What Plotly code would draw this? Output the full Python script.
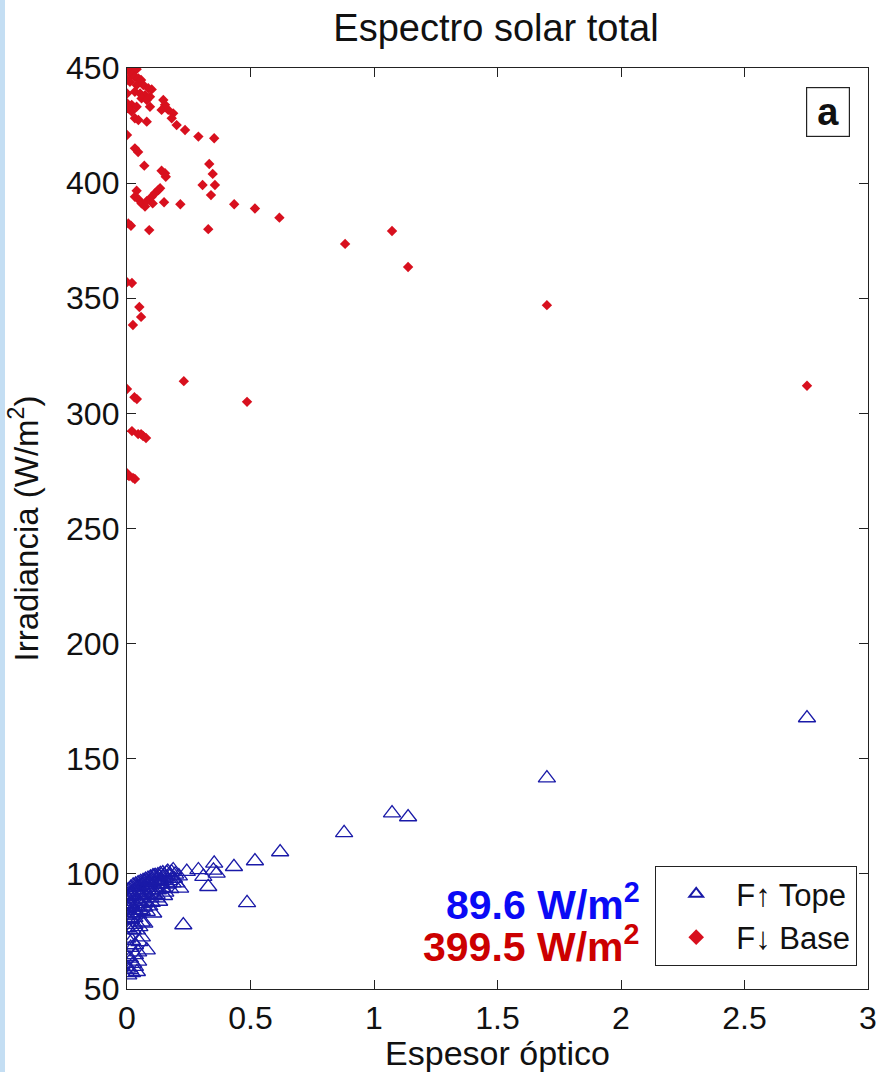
import plotly.graph_objects as go

# Optical thickness and upward flux at top of atmosphere (W/m2)
tau_up = [2.753, 1.70, 1.138, 1.073, 0.879, 0.62, 0.518, 0.486, 0.433, 0.353,
          0.35, 0.363, 0.329, 0.289, 0.309, 0.242, 0.187, 0.215, 0.228,
          0.16, 0.15, 0.13, 0.12, 0.10, 0.09, 0.08, 0.07, 0.06, 0.05,
          0.04, 0.03, 0.02, 0.01, 0.0, 0.0, 0.01, 0.02, 0.035, 0.05,
          0.065, 0.085, 0.11, 0.14, 0.17, 0.19, 0.2, 0.175, 0.155, 0.12,
          0.095, 0.075, 0.055, 0.04, 0.025, 0.01, 0.0, 0.0, 0.015, 0.03,
          0.045, 0.06, 0.08, 0.106, 0.09, 0.13, 0.0, 0.008, 0.024, 0.04,
          0.032, 0.08, 0.05, 0.02, 0.0, 0.012, 0.032, 0.045, 0.0, 0.012,
          0.032, 0.005, 0.02, 0.06, 0.11, 0.1,
          0.005, 0.015, 0.025, 0.035, 0.045, 0.055, 0.065, 0.075, 0.085, 0.095,
          0.105, 0.115, 0.125, 0.135, 0.145, 0.165, 0.18, 0.195, 0.21,
          0.005, 0.015, 0.025, 0.045, 0.055, 0.075, 0.095, 0.115, 0.135, 0.155,
          0.175, 0.005, 0.015, 0.045, 0.065, 0.085, 0.105, 0.125, 0.145, 0.165,
          0.185, 0.005, 0.02, 0.035, 0.05, 0.07, 0.1, 0.12, 0.15, 0.06,
          0.03, 0.05, 0.07, 0.0, 0.015, 0.06, 0.045, 0.025, 0.04]
f_up = [167.7, 141.6, 124.7, 126.4, 117.8, 109.5, 105.6, 87.4, 103.1, 104.6,
        101.5, 100.2, 94.4, 101.7, 98.8, 101.0, 101.7, 93.7, 77.8,
        100.5, 99.5, 98.8, 97.5, 97.0, 96.2, 95.5, 96.5, 95.0, 94.5,
        94.0, 93.0, 92.0, 91.0, 90.0, 88.0, 87.0, 86.0, 89.0, 90.5,
        92.0, 93.0, 94.0, 95.5, 97.0, 98.0, 96.0, 93.5, 92.0, 91.0,
        89.5, 88.0, 87.0, 85.5, 84.0, 83.0, 82.0, 85.0, 80.5, 81.0,
        82.5, 84.0, 83.6, 82.9, 86.0, 88.0, 76.5, 75.8, 75.6, 75.6,
        69.1, 66.9, 70.5, 71.0, 64.0, 63.3, 64.8, 66.0, 59.0, 58.3,
        59.7, 56.0, 57.0, 91.0, 99.0, 92.5,
        93.0, 94.0, 95.0, 95.5, 96.0, 96.5, 97.0, 97.5, 98.0, 98.5,
        99.0, 99.2, 99.5, 100.0, 100.3, 101.0, 100.8, 99.8, 99.0,
        89.0, 90.0, 90.5, 92.0, 93.0, 94.0, 95.0, 96.5, 97.5, 98.5,
        99.0, 85.5, 86.5, 88.0, 89.0, 90.5, 91.5, 93.0, 94.0, 95.5,
        96.0, 80.0, 82.0, 83.0, 84.5, 85.5, 87.5, 89.5, 90.5, 79.0,
        78.0, 77.0, 78.5, 72.0, 68.0, 72.5, 62.0, 61.0, 57.5]

# Optical thickness and downward flux at the surface (W/m2)
tau_down = [0.005, 0.026, 0.039, 0.019, 0.032, 0.046, 0.057, 0.0, 0.012, 0.066,
            0.039, 0.086, 0.1, 0.0, 0.032, 0.053, 0.073, 0.059, 0.08, 0.093,
            0.0, 0.019, 0.039, 0.093, 0.147, 0.154, 0.14, 0.167, 0.187, 0.181,
            0.019, 0.005, 0.032, 0.046, 0.08, 0.201, 0.235, 0.289, 0.353, 0.0,
            0.032, 0.045, 0.07, 0.14, 0.154, 0.157, 0.333, 0.347, 0.356, 0.306,
            0.34, 0.039, 0.032, 0.046, 0.059, 0.073, 0.08, 0.1, 0.113, 0.127,
            0.134, 0.104, 0.15, 0.216, 0.434, 0.518, 0.617, 0.005, 0.016, 0.09,
            0.329, 0.883, 1.073, 1.138, 1.70, 2.753, 0.0, 0.02, 0.05, 0.057,
            0.024, 0.0, 0.03, 0.04, 0.23, 0.486, 0.02, 0.045, 0.057, 0.065,
            0.077, 0.0, 0.008, 0.024, 0.032]
f_down = [449.1, 449.0, 449.5, 447.0, 446.2, 445.5, 444.8, 444.8, 444.0, 442.6,
          442.6, 441.2, 440.7, 438.9, 439.7, 438.9, 438.2, 436.8, 436.1, 437.5,
          434.7, 434.0, 433.2, 433.2, 436.1, 434.0, 431.8, 431.8, 430.3, 428.2,
          431.1, 432.5, 428.2, 427.4, 426.7, 425.2, 423.1, 420.2, 419.5, 420.9,
          415.1, 413.5, 407.6, 405.4, 404.3, 402.8, 408.3, 404.0, 399.2, 399.2,
          394.8, 396.7, 394.1, 393.0, 391.2, 389.8, 392.2, 394.1, 395.6, 397.0,
          397.8, 391.2, 391.7, 390.8, 390.8, 389.0, 385.0, 382.5, 381.5, 379.6,
          380.0, 373.6, 379.2, 363.6, 347.0, 312.0, 357.0, 356.6, 346.2, 341.9,
          338.4, 310.6, 307.0, 306.2, 314.0, 305.0, 292.3, 291.0, 291.0, 290.2,
          289.3, 274.0, 272.8, 272.0, 271.5]

mean_up_text = "89.6 W/m<sup>2</sup>"
mean_down_text = "399.5 W/m<sup>2</sup>"

x_ticks = [0, 0.5, 1, 1.5, 2, 2.5, 3]
x_tick_labels = ["0", "0.5", "1", "1.5", "2", "2.5", "3"]
y_ticks = [50, 100, 150, 200, 250, 300, 350, 400, 450]

FONT = "Liberation Sans, Arial, sans-serif"
W, H = 881, 1072
ML, MR, MT, MB = 127, 13, 68, 83
PW, PH = W - ML - MR, H - MT - MB

fig = go.Figure()
fig.add_trace(go.Scatter(
    x=tau_up, y=f_up, mode="markers", name="F\u2191 Tope",
    marker=dict(symbol="triangle-up-open", size=15, color="#1a1aa8",
                line=dict(width=1.3, color="#1a1aa8")),
))
fig.add_trace(go.Scatter(
    x=tau_down, y=f_down, mode="markers", name="F\u2193 Base",
    marker=dict(symbol="diamond", size=8, color="#d8101e",
                line=dict(width=0)),
))

axis_common = dict(
    showline=True, linecolor="#222", linewidth=1.3, mirror="ticks",
    ticks="inside", ticklen=9, tickcolor="#222", tickwidth=1.2,
    showgrid=False, zeroline=False, automargin=False,
    tickfont=dict(family=FONT, size=32, color="#111"),
)

fig.update_xaxes(range=[0, 3], tickvals=x_ticks, ticktext=x_tick_labels,
                 title=dict(text="Espesor óptico", standoff=4,
                            font=dict(family=FONT, size=34, color="#111")),
                 **axis_common)
fig.update_yaxes(range=[50, 450], tickvals=y_ticks,
                 title=dict(text="Irradiancia (W/m<sup>2</sup>)", standoff=17,
                            font=dict(family=FONT, size=33, color="#111")),
                 **axis_common)

# light blue strip along the left edge of the page
fig.add_shape(type="rect", xref="paper", yref="paper",
              x0=-ML / PW, x1=(-ML + 5) / PW, y0=-MB / PH, y1=1 + MT / PH,
              fillcolor="#c4def3", line=dict(width=0), layer="below")

# panel label
fig.add_annotation(xref="paper", yref="paper", x=(828 - ML) / PW,
                   y=1 - (112 - MT) / PH, xanchor="center", yanchor="middle",
                   text="<b>a</b>", showarrow=False,
                   font=dict(family=FONT, size=38, color="#111"),
                   width=42, height=48, bordercolor="#222", borderwidth=1.2,
                   borderpad=0, bgcolor="white")

# mean fluxes
fig.add_annotation(xref="paper", yref="paper", x=(642 - ML) / PW,
                   y=1 - (902 - MT) / PH, xanchor="right", yanchor="middle",
                   text="<b>" + mean_up_text + "</b>", showarrow=False,
                   font=dict(family=FONT, size=41, color="#0a0af5"))
fig.add_annotation(xref="paper", yref="paper", x=(642 - ML) / PW,
                   y=1 - (944 - MT) / PH, xanchor="right", yanchor="middle",
                   text="<b>" + mean_down_text + "</b>", showarrow=False,
                   font=dict(family=FONT, size=41, color="#cc0000"))

fig.update_layout(
    width=W, height=H,
    margin=dict(l=ML, r=MR, t=MT, b=MB, autoexpand=False),
    paper_bgcolor="white", plot_bgcolor="white",
    title=dict(text="Espectro solar total", x=496 / W, xanchor="center",
               y=1 - 28 / H, yanchor="middle",
               font=dict(family=FONT, size=38, color="#111")),
    legend=dict(x=(857 - ML) / PW, y=(989 - 966) / PH, xanchor="right",
                yanchor="bottom", bgcolor="white", bordercolor="#222",
                borderwidth=1.2, font=dict(family=FONT, size=31, color="#111"),
                itemwidth=70, itemsizing="constant"),
    showlegend=True,
)

fig.write_html("out.html")
